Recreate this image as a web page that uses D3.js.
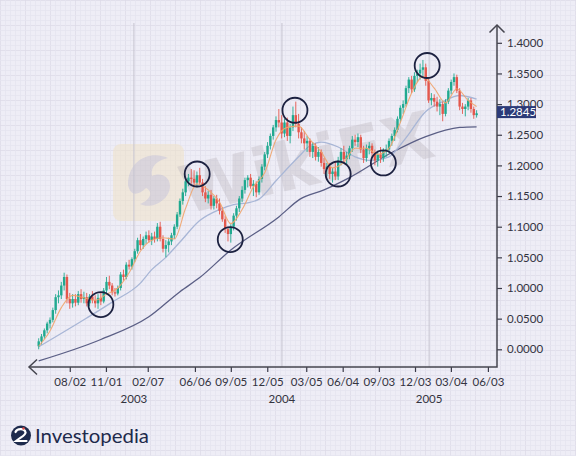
<!DOCTYPE html>
<html><head><meta charset="utf-8">
<script src="https://cdn.jsdelivr.net/npm/d3@7"></script>
<style>html,body{margin:0;padding:0;background:#eeedf6;}svg{display:block}</style>
</head><body><svg id="c" width="576" height="456"></svg>
<script>
// ---- DATA (weekly EUR/USD candles) ----
const open = [0.905,0.913,0.921,0.931,0.942,0.948,0.964,0.985,0.988,1.004,
1.018,0.982,0.975,0.982,0.976,0.990,0.982,0.985,0.975,0.986,
0.980,0.975,0.984,0.978,0.996,1.010,1.004,0.993,0.991,1.000,
1.022,1.018,1.038,1.035,1.047,1.060,1.078,1.070,1.080,1.086,
1.078,1.084,1.080,1.100,1.080,1.064,1.070,1.076,1.086,1.100,
1.120,1.142,1.156,1.174,1.180,1.178,1.172,1.184,1.172,1.156,
1.146,1.152,1.134,1.146,1.138,1.126,1.112,1.096,1.088,1.100,
1.118,1.130,1.146,1.160,1.176,1.180,1.166,1.170,1.156,1.178,
1.198,1.218,1.232,1.248,1.262,1.274,1.270,1.252,1.270,1.248,
1.262,1.282,1.268,1.254,1.244,1.236,1.240,1.222,1.232,1.214,
1.222,1.204,1.194,1.198,1.186,1.190,1.182,1.208,1.222,1.210,
1.216,1.228,1.242,1.238,1.246,1.226,1.212,1.228,1.232,1.220,
1.208,1.218,1.212,1.224,1.226,1.240,1.248,1.258,1.276,1.294,
1.300,1.326,1.340,1.324,1.346,1.350,1.356,1.360,1.338,1.306,
1.310,1.304,1.296,1.300,1.284,1.304,1.322,1.336,1.344,1.322,
1.296,1.292,1.296,1.306,1.292,1.282];
const high = [0.918,0.925,0.934,0.945,0.952,0.968,0.990,0.996,1.010,1.025,
1.022,0.992,0.990,0.990,0.995,0.998,0.994,0.992,0.990,0.995,
0.988,0.990,0.992,1.000,1.018,1.020,1.008,1.000,1.004,1.026,
1.030,1.042,1.046,1.050,1.064,1.082,1.088,1.084,1.092,1.094,
1.090,1.092,1.106,1.108,1.086,1.078,1.082,1.090,1.104,1.124,
1.146,1.162,1.178,1.186,1.194,1.192,1.190,1.196,1.178,1.166,
1.158,1.160,1.150,1.152,1.146,1.132,1.118,1.100,1.104,1.122,
1.134,1.150,1.166,1.180,1.184,1.186,1.176,1.174,1.182,1.202,
1.222,1.238,1.252,1.266,1.280,1.292,1.282,1.276,1.278,1.268,
1.296,1.304,1.284,1.262,1.256,1.248,1.244,1.238,1.236,1.230,
1.226,1.212,1.204,1.204,1.196,1.206,1.214,1.228,1.232,1.222,
1.232,1.248,1.250,1.252,1.250,1.232,1.234,1.238,1.236,1.226,
1.224,1.230,1.228,1.234,1.244,1.252,1.262,1.280,1.298,1.306,
1.330,1.344,1.346,1.352,1.356,1.366,1.372,1.366,1.342,1.318,
1.316,1.312,1.308,1.304,1.308,1.326,1.340,1.350,1.348,1.326,
1.302,1.300,1.310,1.310,1.296,1.290];
const low = [0.900,0.908,0.917,0.926,0.934,0.944,0.958,0.975,0.982,0.996,
0.975,0.966,0.968,0.970,0.972,0.976,0.975,0.970,0.970,0.975,
0.968,0.966,0.972,0.975,0.990,0.998,0.988,0.986,0.988,0.996,
1.012,1.014,1.030,1.030,1.042,1.056,1.062,1.064,1.072,1.074,
1.070,1.074,1.076,1.076,1.058,1.050,1.058,1.070,1.080,1.096,
1.116,1.136,1.150,1.166,1.170,1.166,1.164,1.168,1.150,1.140,
1.138,1.128,1.128,1.130,1.120,1.108,1.090,1.076,1.074,1.094,
1.110,1.124,1.140,1.154,1.164,1.162,1.150,1.148,1.152,1.172,
1.192,1.212,1.226,1.242,1.255,1.262,1.244,1.246,1.240,1.236,
1.256,1.262,1.244,1.236,1.226,1.222,1.214,1.212,1.208,1.206,
1.198,1.186,1.182,1.178,1.172,1.176,1.176,1.200,1.204,1.202,
1.210,1.222,1.232,1.230,1.220,1.204,1.206,1.218,1.212,1.200,
1.198,1.204,1.206,1.214,1.220,1.232,1.240,1.254,1.270,1.284,
1.296,1.318,1.318,1.320,1.336,1.340,1.346,1.330,1.302,1.298,
1.296,1.288,1.282,1.272,1.280,1.300,1.316,1.330,1.318,1.290,
1.284,1.280,1.290,1.286,1.276,1.278];
const close = [0.913,0.921,0.931,0.942,0.948,0.964,0.985,0.988,1.004,1.018,
0.982,0.975,0.982,0.976,0.990,0.982,0.985,0.975,0.986,0.980,
0.975,0.984,0.978,0.996,1.010,1.004,0.993,0.991,1.000,1.022,
1.018,1.038,1.035,1.047,1.060,1.078,1.070,1.080,1.086,1.078,
1.084,1.080,1.100,1.080,1.064,1.070,1.076,1.086,1.100,1.120,
1.142,1.156,1.174,1.180,1.178,1.172,1.184,1.172,1.156,1.146,
1.152,1.134,1.146,1.138,1.126,1.112,1.096,1.088,1.100,1.118,
1.130,1.146,1.160,1.176,1.180,1.166,1.170,1.156,1.178,1.198,
1.218,1.232,1.248,1.262,1.274,1.270,1.252,1.270,1.248,1.262,
1.282,1.268,1.254,1.244,1.236,1.240,1.222,1.232,1.214,1.222,
1.204,1.194,1.198,1.186,1.190,1.182,1.208,1.222,1.210,1.216,
1.228,1.242,1.238,1.246,1.226,1.212,1.228,1.232,1.220,1.208,
1.218,1.212,1.224,1.226,1.240,1.248,1.258,1.276,1.294,1.300,
1.326,1.340,1.324,1.346,1.350,1.356,1.360,1.338,1.306,1.310,
1.304,1.296,1.300,1.284,1.304,1.322,1.336,1.344,1.322,1.296,
1.292,1.296,1.306,1.292,1.282,1.285];

// moving averages (week index, value)
const fastK = [0,4,8,12,16,20,24,28,32,36,40,44,48,52,56,60,64,68,72,76,80,84,88,92,96,100,104,108,112,116,120,124,128,132,136,140,144,148,152,155];
const fastV = [0.905,0.930,0.968,0.988,0.984,0.980,0.990,1.000,1.025,1.060,1.078,1.082,1.080,1.130,1.170,1.160,1.140,1.105,1.128,1.165,1.188,1.242,1.262,1.264,1.242,1.222,1.196,1.205,1.228,1.228,1.218,1.228,1.270,1.318,1.345,1.326,1.302,1.325,1.306,1.296];
const medK = [0,17,26,36,40,45,50,57,64,69,74,78,84,92,96,100,106,112,118,124,130,137,143,149,155];
const medV = [0.904,0.951,0.977,1.008,1.030,1.050,1.075,1.110,1.128,1.136,1.139,1.145,1.175,1.214,1.232,1.238,1.230,1.214,1.208,1.214,1.245,1.288,1.304,1.314,1.308];
const slowK = [0,22,39,50,57,68,85,92.5,101,110,125,137,149,155];
const slowV = [0.881,0.916,0.953,0.994,1.017,1.062,1.116,1.145,1.160,1.180,1.221,1.247,1.262,1.263];

// highlighted swing points (circles)
const circK = [22,56.1,67.8,90.7,106,122,137.5];
const circV = [0.973,1.186,1.079,1.290,1.186,1.204,1.363];

// axes
const yTickVals = [0.90,0.95,1.00,1.05,1.10,1.15,1.20,1.25,1.30,1.35,1.40];
const yTickLabels = ["0.0000","0.0500","1.0000","1.0500","1.1000","1.1500","1.2000","1.2500","1.3000","1.3500","1.4000"];
const xTickK = [11,23.8,38.6,55.3,68,80.9,94.7,107.6,120.4,133.2,145.9,159];
const xTickLabels = ["08/02","11/01","02/07","06/06","09/05","12/05","03/05","06/04","09/03","12/03","03/04","06/03"];
const yearK = [33.7,86.1,138.2];
const yearLabels = ["2003","2004","2005"];
const lastPrice = 1.2845;

// ---- DRAW ----
const svg = d3.select("#c");
const GREEN = "#20a98f", RED = "#e4574c";
const FONT = "Lato, 'Open Sans', sans-serif";
const x = d3.scaleLinear().domain([0,159]).range([38.7,487.9]);
const y = d3.scaleLinear().domain([0.90,1.40]).range([349.3,42.8]);
const AX = 497, AY = 367;

// background grid paper
const defs = svg.append("defs");
const pat = defs.append("pattern").attr("id","gp").attr("width",25).attr("height",25).attr("patternUnits","userSpaceOnUse");
pat.append("rect").attr("width",25).attr("height",25).attr("fill","#eeedf6");
for (let i=0;i<5;i++){
  const c = i===0 ? "#dddce9" : "#e5e4f0";
  pat.append("line").attr("x1",i*5+0.5).attr("x2",i*5+0.5).attr("y1",0).attr("y2",25).attr("stroke",c).attr("stroke-width",0.8);
  pat.append("line").attr("y1",i*5+0.5).attr("y2",i*5+0.5).attr("x1",0).attr("x2",25).attr("stroke",c).attr("stroke-width",0.8);
}
svg.append("rect").attr("width",576).attr("height",456).attr("fill","url(#gp)");

// watermark (faint)
const wm = svg.append("g").attr("opacity",0.55);
wm.append("rect").attr("x",113).attr("y",144).attr("width",71).attr("height",77).attr("rx",8).attr("fill","#f1e3c8");
wm.append("path").attr("d","M128,185 C128,160 150,150 168,158 C158,160 150,166 152,176 C160,172 170,176 170,186 C170,200 152,210 140,204 C150,200 154,192 146,188 C138,196 130,196 128,185 Z").attr("fill","#cbc3c8");
svg.append("text").attr("x",186).attr("y",214).attr("transform","rotate(-13,186,214)")
  .attr("font-family","'DejaVu Sans', sans-serif").attr("font-weight","bold").attr("font-size",66)
  .attr("fill","#b9b2ba").attr("opacity",0.35).text("WikiFX");

// vertical year lines
svg.append("g").selectAll("line").data(yearK).join("line")
  .attr("x1",d=>x(d)).attr("x2",d=>x(d)).attr("y1",23).attr("y2",AY)
  .attr("stroke","#c6c5d0").attr("stroke-width",1);

// moving averages
const lineGen = (K,V)=> d3.line().curve(d3.curveMonotoneX).x((d,i)=>x(K[i])).y((d,i)=>y(V[i]))(V);
svg.append("path").attr("d",lineGen(slowK,slowV)).attr("fill","none").attr("stroke","#5a5e85").attr("stroke-width",1.3);
svg.append("path").attr("d",lineGen(medK,medV)).attr("fill","none").attr("stroke","#a8b6d6").attr("stroke-width",1.3);

// candles
const idx = d3.range(close.length);
const cg = svg.append("g");
cg.selectAll("line").data(idx).join("line")
  .attr("x1",i=>x(i)).attr("x2",i=>x(i)).attr("y1",i=>y(high[i])).attr("y2",i=>y(low[i]))
  .attr("stroke",i=>close[i]>=open[i]?GREEN:RED).attr("stroke-width",0.9);
cg.selectAll("rect").data(idx).join("rect")
  .attr("x",i=>x(i)-1.2).attr("width",2.4)
  .attr("y",i=>y(Math.max(open[i],close[i])))
  .attr("height",i=>Math.max(1.2,Math.abs(y(open[i])-y(close[i]))))
  .attr("fill",i=>close[i]>=open[i]?GREEN:RED);

svg.append("path").attr("d",lineGen(fastK,fastV)).attr("fill","none").attr("stroke","#f0a46c").attr("stroke-width",1.1).attr("opacity",0.9);

// circles
svg.append("g").selectAll("circle").data(circK).join("circle")
  .attr("cx",d=>x(d)).attr("cy",(d,i)=>y(circV[i])).attr("r",12.5)
  .attr("fill","none").attr("stroke","#1c2140").attr("stroke-width",1.8);

// y axis
const yAxis = d3.axisRight(y).tickValues(yTickVals).tickFormat((d,i)=>yTickLabels[i]).tickSize(5).tickPadding(5);
const yg = svg.append("g").attr("transform",`translate(${AX},0)`).call(yAxis);
yg.select(".domain").remove();
yg.selectAll("line").attr("stroke","#3a3a48").attr("stroke-width",1.2);
yg.selectAll("text").attr("font-family",FONT).attr("font-size",11.5).attr("fill","#33333f");

// x axis
const xAxis = d3.axisBottom(x).tickValues(xTickK).tickFormat((d,i)=>xTickLabels[i]).tickSize(5).tickPadding(6);
const xg = svg.append("g").attr("transform",`translate(0,${AY})`).call(xAxis);
xg.select(".domain").remove();
xg.selectAll("line").attr("stroke","#3a3a48").attr("stroke-width",1.2);
xg.selectAll("text").attr("font-family",FONT).attr("font-size",11.5).attr("fill","#33333f");

// year labels
svg.append("g").selectAll("text").data(yearK).join("text")
  .attr("x",d=>x(d)).attr("y",403).attr("text-anchor","middle")
  .attr("font-family",FONT).attr("font-size",11.5).attr("fill","#33333f")
  .text((d,i)=>yearLabels[i]);

// axis lines with arrows
const axc = "#45454f";
svg.append("path").attr("d",`M${AX},25 L${AX},${AY} L29,${AY}`).attr("fill","none").attr("stroke",axc).attr("stroke-width",1.5);
svg.append("path").attr("d",`M${AX-7.5},32.5 L${AX},25 L${AX+7.5},32.5`).attr("fill","none").attr("stroke",axc).attr("stroke-width",1.5);
svg.append("path").attr("d",`M37,${AY-7.5} L29,${AY} L37,${AY+7.5}`).attr("fill","none").attr("stroke",axc).attr("stroke-width",1.5);

// last price tag
const py = y(lastPrice);
svg.append("rect").attr("x",AX).attr("y",py-7.5).attr("width",39).attr("height",12).attr("fill","#2c3a78");
svg.append("text").attr("x",AX+3).attr("y",py+2.5).attr("font-family",FONT).attr("font-size",11.5)
  .attr("fill","#ffffff").text(lastPrice.toFixed(4));

// Investopedia logo
const lg = svg.append("g");
lg.append("circle").attr("cx",21).attr("cy",435.5).attr("r",10).attr("fill","#1d2a4c");
lg.append("path").attr("d","M15.5,432 C17,428 25,428 25.5,432.5 C26,435 21,437 16,441 L26.5,441")
  .attr("fill","none").attr("stroke","#ffffff").attr("stroke-width",2.2).attr("stroke-linecap","round");
lg.append("circle").attr("cx",23.5).attr("cy",428.5).attr("r",1.3).attr("fill","#e0504a");
lg.append("text").attr("x",35).attr("y",442.5).attr("font-family","Lato, 'Open Sans', sans-serif")
  .attr("font-size",20).attr("fill","#1d2a4c").attr("textLength",114).attr("lengthAdjust","spacingAndGlyphs")
  .text("Investopedia");
</script></body></html>
